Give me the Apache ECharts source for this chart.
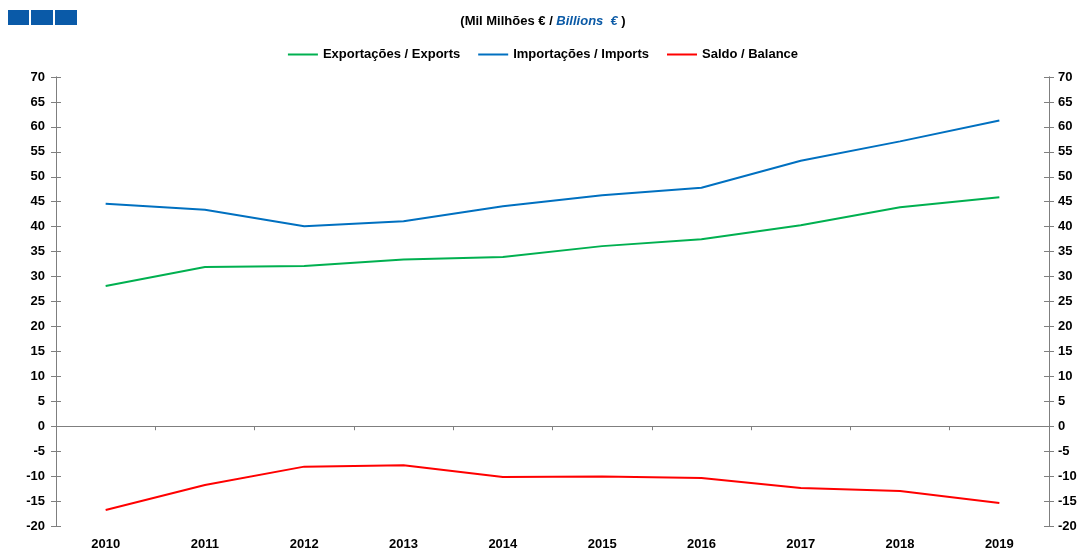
<!DOCTYPE html>
<html>
<head>
<meta charset="utf-8">
<script src="https://cdn.jsdelivr.net/npm/echarts@6/dist/echarts.min.js"></script>
<style>html,body{margin:0;padding:0;background:#fff;}#c{width:1086px;height:552px;}</style>
</head>
<body>
<div id="c"></div>
<script>
const years = ['2010','2011','2012','2013','2014','2015','2016','2017','2018','2019'];
const exportsVals = [28.1, 31.9, 32.1, 33.4, 33.9, 36.1, 37.5, 40.3, 43.9, 45.9];
const importsVals = [44.6, 43.4, 40.1, 41.1, 44.1, 46.3, 47.8, 53.2, 57.1, 61.3];
const balanceVals = [-16.8, -11.8, -8.1, -7.8, -10.2, -10.1, -10.4, -12.4, -13.0, -15.4];
const seriesNames = ['Exportações / Exports', 'Importações / Imports', 'Saldo / Balance'];

const font = 'Liberation Sans, Arial, sans-serif';
const axisGray = '#7f7f7f';
const chart = echarts.init(document.getElementById('c'), null, {renderer: 'canvas'});

function yAx(pos, inside, showLabel) {
  return {
    type: 'value', position: pos, min: -20, max: 70, interval: 5,
    axisLine: {show: true, lineStyle: {color: axisGray, width: 1}},
    axisTick: {show: true, inside: inside, length: 5, lineStyle: {color: axisGray}},
    axisLabel: {show: showLabel, color: '#000', fontFamily: font, fontWeight: 'bold', fontSize: 13, margin: pos === 'left' ? 11 : 9},
    splitLine: {show: false}
  };
}

chart.setOption({
  animation: false,
  backgroundColor: '#fff',
  title: {
    left: 'center', top: 10,
    text: '{a|(Mil Milhões € / }{b|Billions  €}{a| )}',
    textStyle: {
      rich: {
        a: {fontFamily: font, fontWeight: 'bold', fontSize: 13, color: '#000'},
        b: {fontFamily: font, fontWeight: 'bold', fontStyle: 'italic', fontSize: 13, color: '#0b5aa6'}
      }
    }
  },
  graphic: [
    {type: 'rect', shape: {x: 8, y: 10, width: 21, height: 15}, style: {fill: '#0a5aa8'}},
    {type: 'rect', shape: {x: 31, y: 10, width: 22, height: 15}, style: {fill: '#0a5aa8'}},
    {type: 'rect', shape: {x: 55, y: 10, width: 22, height: 15}, style: {fill: '#0a5aa8'}}
  ],
  legend: {
    top: 43, left: 'center',
    icon: 'rect',
    itemWidth: 30, itemHeight: 2, itemGap: 18,
    textStyle: {fontFamily: font, fontWeight: 'bold', fontSize: 13, color: '#000'},
    data: seriesNames
  },
  grid: {left: 56, right: 37, top: 77, bottom: 26, containLabel: false},
  xAxis: [
    {
      type: 'category', data: years, position: 'bottom', boundaryGap: true,
      axisLine: {show: false, onZero: false},
      axisTick: {show: false},
      axisLabel: {color: '#000', fontFamily: font, fontWeight: 'bold', fontSize: 13, margin: 12},
      splitLine: {show: false}
    },
    {
      type: 'category', data: years, position: 'bottom', boundaryGap: true,
      axisLine: {show: true, onZero: true, onZeroAxisIndex: 0, lineStyle: {color: axisGray, width: 1}},
      axisTick: {show: true, interval: 0, length: 4, lineStyle: {color: axisGray}},
      axisLabel: {show: false},
      splitLine: {show: false}
    }
  ],
  yAxis: [
    yAx('left', false, true),
    yAx('right', false, true),
    yAx('left', true, false),
    yAx('right', true, false)
  ],
  series: [
    {name: seriesNames[0], type: 'line', data: exportsVals, xAxisIndex: 0, yAxisIndex: 0, symbol: 'none', lineStyle: {color: '#00b050', width: 2}, itemStyle: {color: '#00b050'}},
    {name: seriesNames[1], type: 'line', data: importsVals, xAxisIndex: 0, yAxisIndex: 0, symbol: 'none', lineStyle: {color: '#0070c0', width: 2}, itemStyle: {color: '#0070c0'}},
    {name: seriesNames[2], type: 'line', data: balanceVals, xAxisIndex: 0, yAxisIndex: 0, symbol: 'none', lineStyle: {color: '#ff0000', width: 2}, itemStyle: {color: '#ff0000'}}
  ]
});
</script>
</body>
</html>
